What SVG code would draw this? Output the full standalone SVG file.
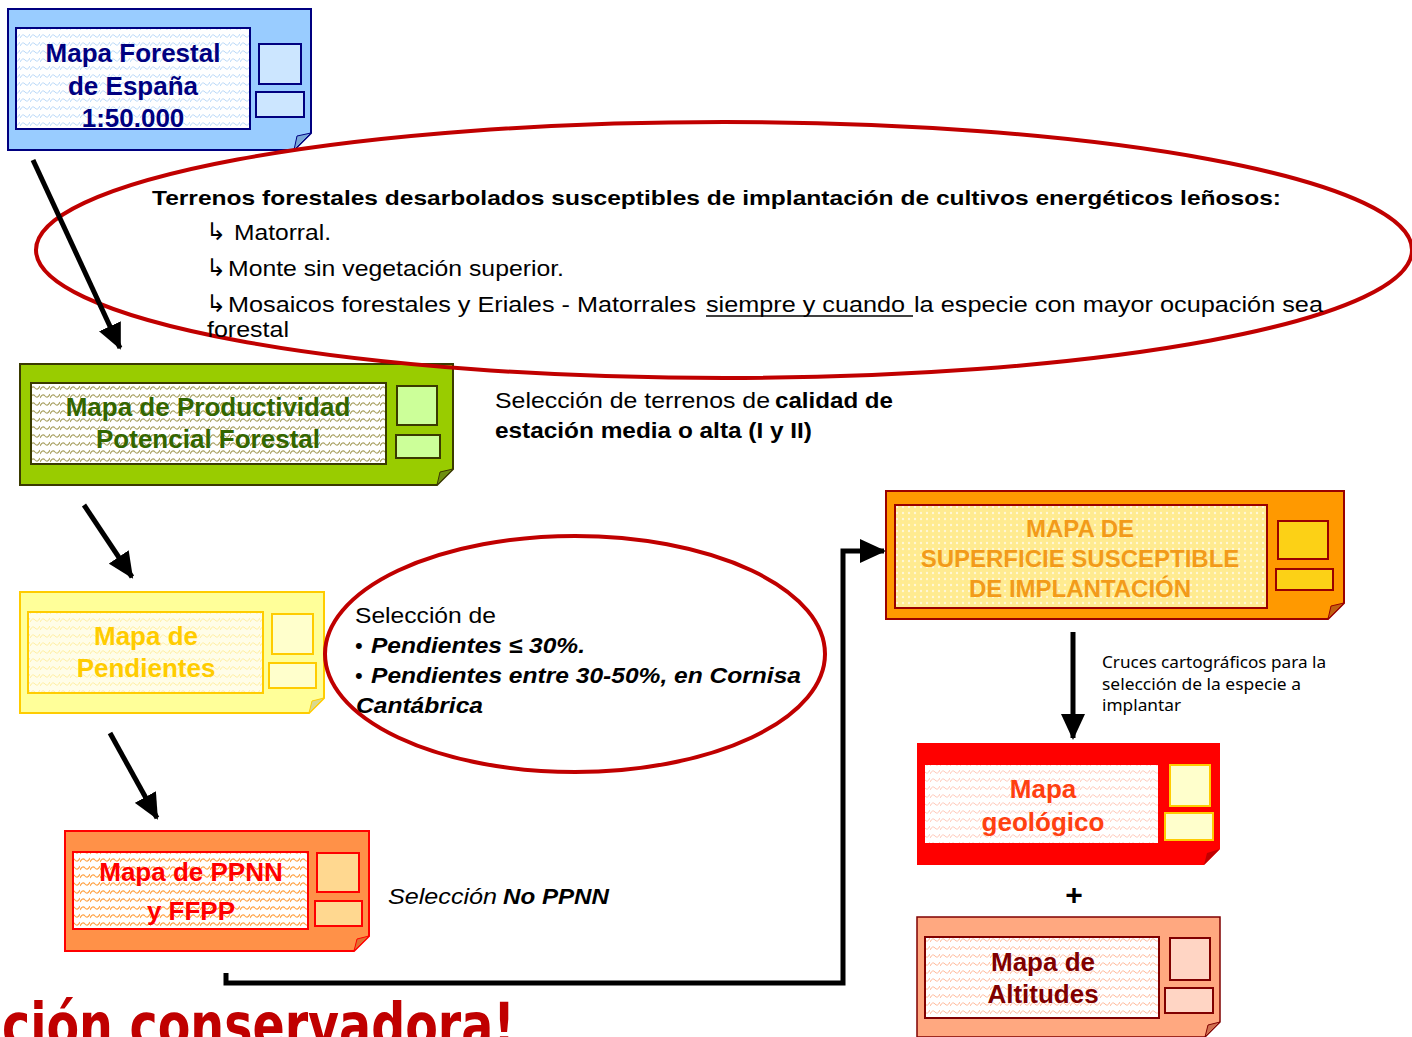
<svg xmlns="http://www.w3.org/2000/svg" width="1412" height="1037" viewBox="0 0 1412 1037">
<defs>
<style>
.nt{font-family:"Liberation Sans",Arial,sans-serif;font-weight:bold;text-anchor:middle}
.tx{font-family:"Liberation Sans",Arial,sans-serif;fill:#000}
.b{font-weight:bold}
.bi{font-weight:bold;font-style:italic}
.it{font-style:italic}
.sym{font-family:"DejaVu Sans",sans-serif;fill:#000}
.conn{fill:none;stroke:#000;stroke-width:5}
.ell{fill:none;stroke:#C00000;stroke-width:4}
</style>
<marker id="ah" markerUnits="userSpaceOnUse" markerWidth="28" markerHeight="24" refX="24" refY="12" orient="auto">
<path d="M0,0 L26,12 L0,24 Z" fill="#000"/>
</marker>
<pattern id="pBlue" width="10" height="8" patternUnits="userSpaceOnUse"><rect width="10" height="8" fill="#fff"/><path d="M0,6 Q2.5,1 5,4 T10,2" fill="none" stroke="#B8D8F8" stroke-width="1"/></pattern>
<pattern id="pGreen" width="10" height="8" patternUnits="userSpaceOnUse"><rect width="10" height="8" fill="#fff"/><path d="M0,6 Q2.5,1 5,4 T10,2" fill="none" stroke="#A8A060" stroke-width="1.1"/></pattern>
<pattern id="pYellow" width="10" height="8" patternUnits="userSpaceOnUse"><rect width="10" height="8" fill="#FFFDE8"/><path d="M0,6 Q2.5,1 5,4 T10,2" fill="none" stroke="#FFEFA0" stroke-width="1"/></pattern>
<pattern id="pOrange" width="10" height="8" patternUnits="userSpaceOnUse"><rect width="10" height="8" fill="#fff"/><path d="M0,6 Q2.5,1 5,4 T10,2" fill="none" stroke="#FFA040" stroke-width="1.1"/></pattern>
<pattern id="pDots" width="6" height="6" patternUnits="userSpaceOnUse"><rect width="6" height="6" fill="#FFEB90"/><circle cx="3" cy="3" r="1.2" fill="#FFF8D8"/></pattern>
<pattern id="pRed" width="10" height="8" patternUnits="userSpaceOnUse"><rect width="10" height="8" fill="#fff"/><path d="M0,6 Q2.5,1 5,4 T10,2" fill="none" stroke="#FFC8B8" stroke-width="1"/></pattern>
<pattern id="pSalmon" width="10" height="8" patternUnits="userSpaceOnUse"><rect width="10" height="8" fill="#fff"/><path d="M0,6 Q2.5,1 5,4 T10,2" fill="none" stroke="#FFB898" stroke-width="1"/></pattern>
</defs>
<rect width="1412" height="1037" fill="#fff"/>

<g id="node-mapa-forestal">
<path d="M8,9 H311 V133 L294,150 H8 Z" fill="#99CCFF" stroke="#000080" stroke-width="2"/>
<path d="M311,133 L294,150 L297,136 Z" fill="#7AA8D8" stroke="#000080" stroke-width="1"/>
<rect x="16" y="28" width="234" height="101" fill="url(#pBlue)" stroke="#000080" stroke-width="2"/>
<rect x="259" y="44" width="42" height="40" fill="#CCE6FF" stroke="#000080" stroke-width="2"/>
<rect x="256" y="92" width="48" height="25" fill="#CCE6FF" stroke="#000080" stroke-width="2"/>
<text class="nt" x="133" y="62" font-size="26" fill="#000080">Mapa Forestal</text>
<text class="nt" x="133" y="95" font-size="26" fill="#000080">de España</text>
<text class="nt" x="133" y="127" font-size="26" fill="#000080">1:50.000</text>
</g>

<g id="node-productividad">
<path d="M20,364 H453 V469 L437,485 H20 Z" fill="#99CC00" stroke="#3A3A00" stroke-width="2"/>
<path d="M453,469 L437,485 L440,472 Z" fill="#6E8F10" stroke="#3A3A00" stroke-width="1"/>
<rect x="31" y="383" width="355" height="81" fill="url(#pGreen)" stroke="#3A3A00" stroke-width="2"/>
<rect x="397" y="386" width="40" height="39" fill="#CCFF99" stroke="#3A3A00" stroke-width="2"/>
<rect x="396" y="435" width="44" height="23" fill="#CCFF99" stroke="#3A3A00" stroke-width="2"/>
<text class="nt" x="208" y="416" font-size="26" fill="#336600">Mapa de Productividad</text>
<text class="nt" x="208" y="448" font-size="26" fill="#336600">Potencial Forestal</text>
</g>

<g id="node-pendientes">
<path d="M20,592 H324 V698 L309,713 H20 Z" fill="#FFFF99" stroke="#FFCC00" stroke-width="2"/>
<path d="M324,698 L309,713 L312,701 Z" fill="#D8D890" stroke="#FFCC00" stroke-width="1"/>
<rect x="28" y="612" width="235" height="81" fill="url(#pYellow)" stroke="#FFCC00" stroke-width="2"/>
<rect x="272" y="614" width="41" height="40" fill="#FFFFCC" stroke="#FFCC00" stroke-width="2"/>
<rect x="269" y="663" width="47" height="25" fill="#FFFFCC" stroke="#FFCC00" stroke-width="2"/>
<text class="nt" x="146" y="645" font-size="26" fill="#FFCC00">Mapa de</text>
<text class="nt" x="146" y="677" font-size="26" fill="#FFCC00">Pendientes</text>
</g>

<g id="node-ppnn">
<path d="M65,831 H369 V936 L354,951 H65 Z" fill="#FF9148" stroke="#FF0000" stroke-width="2"/>
<path d="M369,936 L354,951 L357,939 Z" fill="#E07030" stroke="#FF0000" stroke-width="1"/>
<rect x="73" y="852" width="235" height="77" fill="url(#pOrange)" stroke="#FF0000" stroke-width="2"/>
<rect x="317" y="853" width="42" height="39" fill="#FFD890" stroke="#FF0000" stroke-width="2"/>
<rect x="315" y="901" width="47" height="25" fill="#FFD890" stroke="#FF0000" stroke-width="2"/>
<text class="nt" x="191" y="881" font-size="26" fill="#FF0000">Mapa de PPNN</text>
<text class="nt" x="191" y="920" font-size="26" fill="#FF0000">y FFPP</text>
</g>

<g id="node-superficie">
<path d="M886,491 H1344 V603 L1328,619 H886 Z" fill="#FF9900" stroke="#990000" stroke-width="2"/>
<path d="M1344,603 L1328,619 L1331,606 Z" fill="#C06010" stroke="#990000" stroke-width="1"/>
<rect x="895" y="505" width="372" height="103" fill="url(#pDots)" stroke="#990000" stroke-width="2"/>
<rect x="1278" y="521" width="50" height="38" fill="#FCD116" stroke="#990000" stroke-width="2"/>
<rect x="1276" y="569" width="57" height="21" fill="#FCD116" stroke="#990000" stroke-width="2"/>
<text class="nt" x="1080" y="537" font-size="24" fill="#F29B1A">MAPA DE</text>
<text class="nt" x="1080" y="567" font-size="24" fill="#F29B1A">SUPERFICIE SUSCEPTIBLE</text>
<text class="nt" x="1080" y="597" font-size="24" fill="#F29B1A">DE IMPLANTACIÓN</text>
</g>

<g id="node-geologico">
<path d="M917,743 H1220 V849 L1204,865 H917 Z" fill="#FF0000"/>
<path d="M1220,849 L1204,865 L1207,853 Z" fill="#C00000"/>
<rect x="925" y="765" width="233" height="78" fill="url(#pRed)"/>
<rect x="1170" y="765" width="40" height="41" fill="#FFFFCC" stroke="#FFCC00" stroke-width="2"/>
<rect x="1165" y="813" width="48" height="27" fill="#FFFFCC" stroke="#FFCC00" stroke-width="2"/>
<text class="nt" x="1043" y="798" font-size="26" fill="#FF4010">Mapa</text>
<text class="nt" x="1043" y="831" font-size="26" fill="#FF4010">geológico</text>
</g>

<g id="node-plus">
<text class="nt" x="1074" y="905" font-size="30" fill="#000">+</text>
</g>

<g id="node-altitudes">
<path d="M917,917 H1220 V1022 L1205,1037 H917 Z" fill="#FFA880" stroke="#800000" stroke-width="1.5"/>
<path d="M1220,1022 L1205,1037 L1208,1025 Z" fill="#D07050" stroke="#800000" stroke-width="1"/>
<rect x="925" y="937" width="234" height="81" fill="url(#pSalmon)" stroke="#800000" stroke-width="2"/>
<rect x="1170" y="938" width="40" height="42" fill="#FFD5C4" stroke="#800000" stroke-width="2"/>
<rect x="1165" y="988" width="48" height="25" fill="#FFD5C4" stroke="#800000" stroke-width="2"/>
<text class="nt" x="1043" y="971" font-size="26" fill="#800000">Mapa de</text>
<text class="nt" x="1043" y="1003" font-size="26" fill="#800000">Altitudes</text>
</g>

<g id="ellipse-terrenos">
<ellipse class="ell" cx="724" cy="250" rx="688" ry="128"/>
<text class="tx b" x="152" y="205" font-size="21" textLength="1129" lengthAdjust="spacingAndGlyphs">Terrenos forestales desarbolados susceptibles de implantación de cultivos energéticos leñosos:</text>
<text class="sym" x="206" y="240" font-size="24">↳</text>
<text class="tx" x="234" y="240" font-size="22" textLength="97" lengthAdjust="spacingAndGlyphs">Matorral.</text>
<text class="sym" x="206" y="276" font-size="24">↳</text>
<text class="tx" x="228" y="276" font-size="22" textLength="336" lengthAdjust="spacingAndGlyphs">Monte sin vegetación superior.</text>
<text class="sym" x="206" y="312" font-size="24">↳</text>
<text class="tx" x="228" y="312" font-size="22" textLength="468" lengthAdjust="spacingAndGlyphs">Mosaicos forestales y Eriales - Matorrales</text>
<text class="tx" x="706" y="312" font-size="22" textLength="199" lengthAdjust="spacingAndGlyphs">siempre y cuando</text>
<line x1="706" y1="316" x2="913" y2="316" stroke="#000" stroke-width="1.5"/>
<text class="tx" x="914" y="312" font-size="22" textLength="409" lengthAdjust="spacingAndGlyphs">la especie con mayor ocupación sea</text>
<text class="tx" x="207" y="337" font-size="22" textLength="82" lengthAdjust="spacingAndGlyphs">forestal</text>
</g>

<g id="label-calidad">
<text class="tx" x="495" y="408" font-size="22" textLength="275" lengthAdjust="spacingAndGlyphs">Selección de terrenos de</text>
<text class="tx b" x="775" y="408" font-size="22" textLength="118" lengthAdjust="spacingAndGlyphs">calidad de</text>
<text class="tx b" x="495" y="438" font-size="22" textLength="317" lengthAdjust="spacingAndGlyphs">estación media o alta (I y II)</text>
</g>

<g id="ellipse-pendientes">
<ellipse class="ell" cx="575" cy="654" rx="250" ry="118"/>
<text class="tx" x="355" y="623" font-size="22" textLength="141" lengthAdjust="spacingAndGlyphs">Selección de</text>
<text class="tx" x="355" y="653" font-size="22">•</text>
<text class="tx bi" x="371" y="653" font-size="22" textLength="214" lengthAdjust="spacingAndGlyphs">Pendientes ≤ 30%.</text>
<text class="tx" x="355" y="683" font-size="22">•</text>
<text class="tx bi" x="371" y="683" font-size="22" textLength="430" lengthAdjust="spacingAndGlyphs">Pendientes entre 30-50%, en Cornisa</text>
<text class="tx bi" x="356" y="713" font-size="22" textLength="127" lengthAdjust="spacingAndGlyphs">Cantábrica</text>
</g>

<g id="label-noppnn">
<text class="tx it" x="388" y="904" font-size="22" textLength="109" lengthAdjust="spacingAndGlyphs">Selección</text>
<text class="tx bi" x="503" y="904" font-size="22" textLength="106" lengthAdjust="spacingAndGlyphs">No PPNN</text>
</g>

<g id="label-cruces">
<text x="1102" y="668" font-family="'Noto Sans',sans-serif" font-size="16" textLength="224" lengthAdjust="spacingAndGlyphs" fill="#000">Cruces cartográficos para la</text>
<text x="1102" y="690" font-family="'Noto Sans',sans-serif" font-size="16" textLength="199" lengthAdjust="spacingAndGlyphs" fill="#000">selección de la especie a</text>
<text x="1102" y="711" font-family="'Noto Sans',sans-serif" font-size="16" textLength="79" lengthAdjust="spacingAndGlyphs" fill="#000">implantar</text>
</g>

<g id="title-fragment">
<text x="2" y="1047" font-family="'DejaVu Sans',sans-serif" font-weight="bold" font-size="62" fill="#C00000" textLength="513" lengthAdjust="spacingAndGlyphs">ción conservadora!</text>
</g>

<g id="connectors">
<line class="conn" x1="33" y1="160" x2="120" y2="348" marker-end="url(#ah)"/>
<line class="conn" x1="84" y1="505" x2="132" y2="577" marker-end="url(#ah)"/>
<line class="conn" x1="110" y1="733" x2="157" y2="818" marker-end="url(#ah)"/>
<polyline class="conn" points="226,973 226,983 843,983 843,551 884,551" stroke-width="6" marker-end="url(#ah)"/>
<line class="conn" x1="1073" y1="632" x2="1073" y2="738" marker-end="url(#ah)"/>
</g>
</svg>
